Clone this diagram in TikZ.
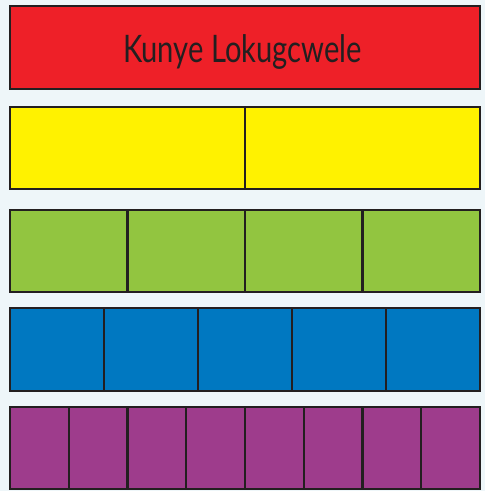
\documentclass[tikz,border=0pt]{standalone}
\usepackage{fontspec}
\newfontfamily\titlefont{Lato}
\definecolor{bgc}{HTML}{EEF6F9}
\definecolor{edgec}{HTML}{231F20}
\definecolor{redc}{HTML}{EE2028}
\definecolor{yelc}{HTML}{FFF200}
\definecolor{grnc}{HTML}{92C540}
\definecolor{bluc}{HTML}{0078C1}
\definecolor{purc}{HTML}{9E3C8C}
\tikzset{
  bar/.style={draw=edgec, line width=2.2pt},
  divider/.style={draw=edgec, line width=2.2pt},
}
\begin{document}
\begin{tikzpicture}[x=1pt,y=-1pt]
\fill[bgc] (0,0) rectangle (485,491);
\useasboundingbox (0,0) rectangle (485,491);
% bars
\def\L{10}\def\R{480}
\path[bar, fill=redc] (\L,6) rectangle (\R,89);
\path[bar, fill=yelc] (\L,107) rectangle (\R,189);
\path[bar, fill=grnc] (\L,210) rectangle (\R,292);
\path[bar, fill=bluc] (\L,308) rectangle (\R,391);
\path[bar, fill=purc] (\L,407) rectangle (\R,489);
% dividers
\draw[divider] (245,107) -- (245,189);
\foreach \i in {1,2,3} \draw[divider] ({\L+\i*470/4},210) -- ({\L+\i*470/4},292);
\foreach \i in {1,...,4} \draw[divider] ({\L+\i*470/5},308) -- ({\L+\i*470/5},391);
\foreach \i in {1,...,7} \draw[divider] ({\L+\i*470/8},407) -- ({\L+\i*470/8},489);
% title
\node[text=edgec, anchor=base, inner sep=0pt] (t) at (242.5,62) {\scalebox{1}[1.3]{\resizebox{239pt}{!}{\fontsize{40}{40}\titlefont Kunye Lokugcwele}}};
\end{tikzpicture}
\end{document}
